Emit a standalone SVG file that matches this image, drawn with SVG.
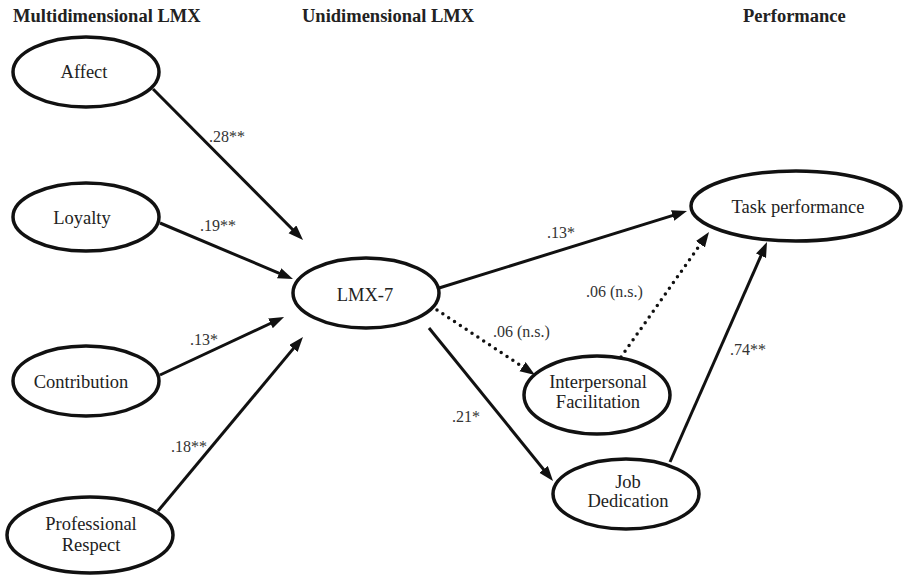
<svg xmlns="http://www.w3.org/2000/svg" width="905" height="575" viewBox="0 0 905 575">
<style>
  .node ellipse { fill: #fff; stroke: #111; stroke-width: 3.5; }
  .node text { font-family: 'Liberation Serif', 'DejaVu Serif', serif; font-size: 18.5px; fill: #222; text-anchor: middle; }
  .hdr { font-family: 'Liberation Serif', 'DejaVu Serif', serif; font-size: 18.5px; font-weight: bold; fill: #222; }
  .lbl { font-family: 'Liberation Serif', 'DejaVu Serif', serif; font-size: 16px; fill: #333; }
  .edge { stroke: #111; stroke-width: 3; fill: none; marker-end: url(#arr); }
  .dot { stroke-dasharray: 0 7; stroke-linecap: round; stroke-width: 3.5; }
</style>
<defs>
  <marker id="arr" markerUnits="userSpaceOnUse" markerWidth="17" markerHeight="12" refX="8" refY="5.5" orient="auto">
    <path d="M0,0 L15,5.5 L0,11 z" fill="#111"/>
  </marker>
</defs>
<rect width="905" height="575" fill="#fff"/>
<g id="headers">
  <text class="hdr" x="13" y="22">Multidimensional LMX</text>
  <text class="hdr" x="302" y="22">Unidimensional LMX</text>
  <text class="hdr" x="743" y="22">Performance</text>
</g>
<g id="connectors">
  <line class="edge" x1="153" y1="89" x2="298.1" y2="235"/>
  <line class="edge" x1="160" y1="223" x2="286.5" y2="276.3"/>
  <line class="edge" x1="160" y1="375" x2="277.7" y2="320"/>
  <line class="edge" x1="158" y1="511" x2="298.5" y2="342.4"/>
  <line class="edge" x1="439" y1="288" x2="680.3" y2="213.1"/>
  <line class="edge dot" x1="437" y1="310" x2="529.2" y2="371.1"/>
  <line class="edge" x1="429" y1="328" x2="548.6" y2="475.6"/>
  <line class="edge dot" x1="621" y1="357" x2="705" y2="237.7"/>
  <line class="edge" x1="670" y1="462" x2="764.2" y2="248.4"/>
  <text class="lbl" x="209" y="142">.28**</text>
  <text class="lbl" x="200" y="231">.19**</text>
  <text class="lbl" x="190" y="345">.13*</text>
  <text class="lbl" x="171" y="452">.18**</text>
  <text class="lbl" x="547" y="238">.13*</text>
  <text class="lbl" x="586" y="297">.06 (n.s.)</text>
  <text class="lbl" x="493" y="337">.06 (n.s.)</text>
  <text class="lbl" x="730" y="355">.74**</text>
  <text class="lbl" x="452" y="422">.21*</text>
</g>
<g id="affect" class="node">
  <ellipse cx="86" cy="72" rx="73" ry="35"/>
  <text x="84" y="78">Affect</text>
</g>
<g id="loyalty" class="node">
  <ellipse cx="86" cy="217" rx="73" ry="34"/>
  <text x="82" y="224">Loyalty</text>
</g>
<g id="contribution" class="node">
  <ellipse cx="86" cy="381" rx="73" ry="35"/>
  <text x="81" y="388">Contribution</text>
</g>
<g id="professional-respect" class="node">
  <ellipse cx="90" cy="535" rx="83" ry="38"/>
  <text x="91" y="530">Professional</text>
  <text x="91" y="551">Respect</text>
</g>
<g id="lmx7" class="node">
  <ellipse cx="366" cy="293" rx="73" ry="35"/>
  <text x="365" y="301">LMX-7</text>
</g>
<g id="task-performance" class="node">
  <ellipse cx="796" cy="206" rx="105" ry="35"/>
  <text x="798" y="213">Task performance</text>
</g>
<g id="interpersonal-facilitation" class="node">
  <ellipse cx="597" cy="395" rx="73" ry="39"/>
  <text x="598" y="388">Interpersonal</text>
  <text x="598" y="408">Facilitation</text>
</g>
<g id="job-dedication" class="node">
  <ellipse cx="626" cy="494" rx="73" ry="35"/>
  <text x="628" y="488">Job</text>
  <text x="628" y="507">Dedication</text>
</g>
</svg>
